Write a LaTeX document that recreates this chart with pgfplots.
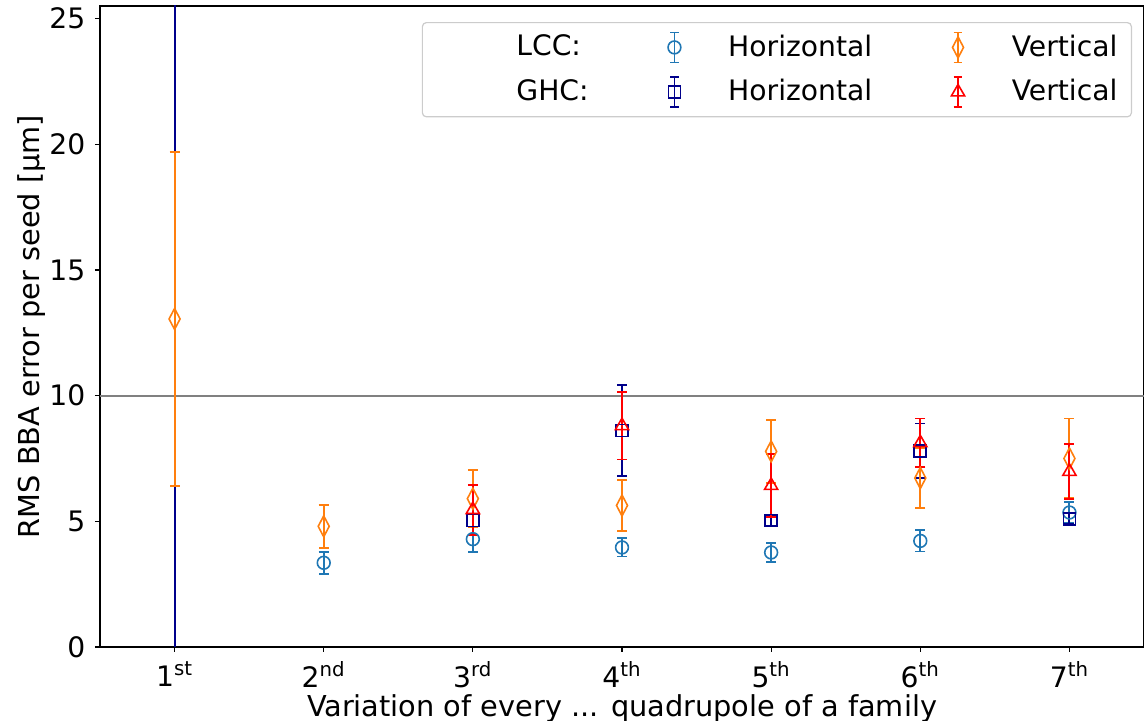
\documentclass[border=0pt]{standalone}
\usepackage{pgfplots}
\pgfplotsset{compat=1.18}
\usepackage{fontspec}
\setmainfont{DejaVu Sans}
\definecolor{tabblue}{HTML}{1F77B4}
\definecolor{taborange}{HTML}{FF7F0E}
\definecolor{navyb}{HTML}{00008B}
\definecolor{legframe}{HTML}{CCCCCC}
\pgfplotsset{
  ebleg/.style={legend image code/.code={
    \path (0pt,0pt) (28pt,0pt);
    \draw[##1, mark=none, line width=0.8pt] (14pt,-7.5pt)--(14pt,7.5pt) (11.8pt,-7.5pt)--(16.2pt,-7.5pt) (11.8pt,7.5pt)--(16.2pt,7.5pt);
    \draw[##1, only marks] plot coordinates {(14pt,0pt)};
  }},
  ebars/.style={forget plot, only marks, mark=*, mark size=0.1pt,
    mark options={draw opacity=0, fill opacity=0},
    error bars/.cd, y dir=both, y explicit,
    error bar style={line width=0.95pt, #1, draw opacity=1},
    error mark=|,
    error mark options={mark size=2.5pt, line width=0.95pt, #1, draw opacity=1}},
  sLH/.style={only marks, mark=o, color=tabblue, mark size=3.2pt, line width=0.8pt},
  sLV/.style={only marks, mark=diamond, color=taborange, mark size=5.25pt, mark options={xscale=0.7}, line width=0.8pt},
  sGH/.style={only marks, mark=square, color=navyb, mark size=3pt, line width=0.8pt},
  sGV/.style={only marks, mark=triangle, color=red, mark size=3.8pt, line width=0.8pt},
}
\pgfplotstableread{
x y e
2 3.35 0.43
3 4.29 0.50
4 3.96 0.36
5 3.76 0.37
6 4.22 0.42
7 5.35 0.42
}\lcch
\pgfplotstableread{
x y e
1 13.05 6.65
2 4.80 0.86
3 5.90 1.13
4 5.63 1.02
5 7.78 1.24
6 6.72 1.20
7 7.50 1.59
}\lccv
\pgfplotstableread{
x y e
1 40 45
3 5.04 0.25
4 8.62 1.80
5 5.04 0.22
6 7.80 1.09
7 5.10 0.22
}\ghch
\pgfplotstableread{
x y e
3 5.46 1.00
4 8.80 1.34
5 6.42 1.25
6 8.12 0.97
7 6.98 1.08
}\ghcv
\begin{document}
\fontsize{14.1}{17}\selectfont
\begin{tikzpicture}
\begin{axis}[
  scale only axis, width=522pt, height=320.5pt,
  font=\fontsize{14.1}{17}\selectfont,
  xmin=0.5, xmax=7.5, ymin=0, ymax=25.5,
  xtick={1,2,3,4,5,6,7},
  xticklabels={1\textsuperscript{st},2\textsuperscript{nd},3\textsuperscript{rd},4\textsuperscript{th},5\textsuperscript{th},6\textsuperscript{th},7\textsuperscript{th}},
  ytick={0,5,10,15,20,25},
  tick pos=left, tick align=outside, major tick length=2.5pt,
  /pgf/number format/assume math mode=true,
  axis line style={black, line width=0.6pt},
  tick style={black, line width=0.6pt},
  clip marker paths=true,
  xlabel={Variation of every ... quadrupole of a family},
  ylabel={RMS BBA error per seed [µm]},
  xlabel style={at={([yshift=-35pt]axis description cs:0.5,0)}, anchor=base, font=\fontsize{14.4}{17}\selectfont},
  ylabel style={at={([xshift=-30pt]axis description cs:0,0.5)}, anchor=base, font=\fontsize{14.4}{17}\selectfont},
  legend columns=3,
  legend cell align=left,
  legend style={at={(0.9885,0.975)}, anchor=north east, draw=legframe, line width=0.6pt,
    rounded corners=2pt, fill=white, fill opacity=0.8, text opacity=1,
    inner xsep=4pt, inner ysep=4.5pt, column sep=0pt, row sep=6.5pt,
    nodes={inner sep=0pt}},
]
\addplot[gray, line width=1pt, forget plot] coordinates {(0.5,10) (7.5,10)};

% error bars (drawn below all markers)
\addplot[ebars=tabblue] table[x=x, y=y, y error=e] {\lcch};
\addplot[ebars=navyb] table[x=x, y=y, y error=e] {\ghch};
\addplot[ebars=taborange] table[x=x, y=y, y error=e] {\lccv};
\addplot[ebars=red] table[x=x, y=y, y error=e] {\ghcv};

% markers
\addplot[sLH, forget plot] table[x=x, y=y] {\lcch};
\addplot[sGH, forget plot] table[x=x, y=y] {\ghch};
\addplot[sLV, forget plot] table[x=x, y=y] {\lccv};
\addplot[sGV, forget plot] table[x=x, y=y] {\ghcv};

% legend
\addlegendimage{empty legend}
\addlegendentry{\hspace*{43pt}LCC:\hspace*{28.5pt}}
\addlegendimage{sLH, ebleg}
\addlegendentry{\hspace*{12.5pt}Horizontal\hspace*{28.5pt}}
\addlegendimage{sLV, ebleg}
\addlegendentry{\hspace*{12.5pt}Vertical\hspace*{3pt}}
\addlegendimage{empty legend}
\addlegendentry{\hspace*{43pt}GHC:\hspace*{28.5pt}}
\addlegendimage{sGH, ebleg}
\addlegendentry{\hspace*{12.5pt}Horizontal\hspace*{28.5pt}}
\addlegendimage{sGV, ebleg}
\addlegendentry{\hspace*{12.5pt}Vertical\hspace*{3pt}}
\end{axis}
\pgfresetboundingbox
\path ([shift={(-50pt,-37pt)}]current axis.south west) rectangle ([shift={(0pt,3pt)}]current axis.north east);
\end{tikzpicture}
\end{document}
